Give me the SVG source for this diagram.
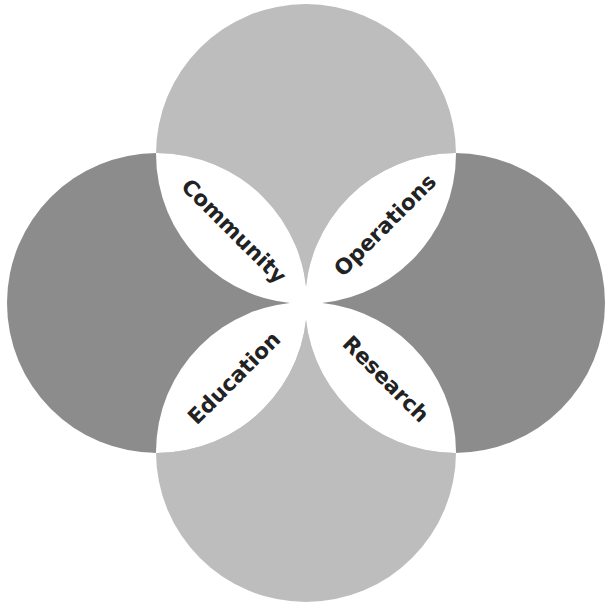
<svg xmlns="http://www.w3.org/2000/svg" width="605" height="607" viewBox="0 0 605 607">
  <style>
    .light { fill: #bdbdbd; }
    .dark { fill: #8c8c8c; }
    .lens { fill: #ffffff; }
    .lbl { font-family: "DejaVu Sans", "Liberation Sans", sans-serif; font-weight: bold; font-size: 21.5px; fill: #222222; text-anchor: middle; dominant-baseline: central; }
  </style>
  <defs>
    <clipPath id="clipTop"><circle cx="306" cy="154" r="150"/></clipPath>
    <clipPath id="clipBottom"><circle cx="306" cy="452" r="150"/></clipPath>
  </defs>
  <rect width="605" height="607" fill="#ffffff"/>
  <g id="circle-top"><circle class="light" cx="306" cy="154" r="150"/></g>
  <g id="circle-bottom"><circle class="light" cx="306" cy="452" r="150"/></g>
  <g id="circle-left"><circle class="dark" cx="157" cy="303" r="150"/></g>
  <g id="circle-right"><circle class="dark" cx="455" cy="303" r="150"/></g>
  <g id="community">
    <circle class="lens" cx="157" cy="303" r="150" clip-path="url(#clipTop)"/>
    <text class="lbl" transform="translate(234,231) rotate(45)">Community</text>
  </g>
  <g id="operations">
    <circle class="lens" cx="455" cy="303" r="150" clip-path="url(#clipTop)"/>
    <text class="lbl" transform="translate(385,225) rotate(-45)">Operations</text>
  </g>
  <g id="education">
    <circle class="lens" cx="157" cy="303" r="150" clip-path="url(#clipBottom)"/>
    <text class="lbl" transform="translate(234,378) rotate(-45)">Education</text>
  </g>
  <g id="research">
    <circle class="lens" cx="455" cy="303" r="150" clip-path="url(#clipBottom)"/>
    <text class="lbl" transform="translate(386,379) rotate(45)">Research</text>
  </g>
</svg>
